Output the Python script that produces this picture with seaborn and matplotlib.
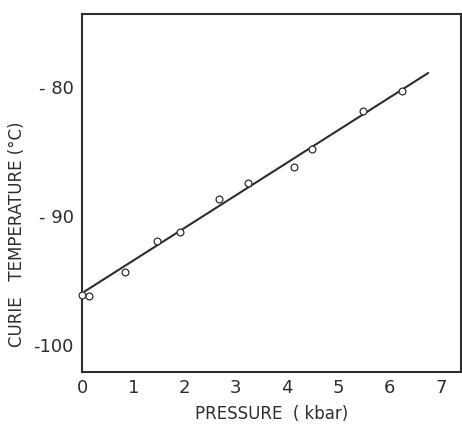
import matplotlib
matplotlib.use("Agg")
import matplotlib.pyplot as plt
import seaborn as sns
import pandas as pd

# Data
pressure_kbar = [0.0, 0.14, 0.83, 1.46, 1.92, 2.67, 3.23, 4.13, 4.48, 5.48, 6.24]
curie_temp_c = [-96.1, -96.2, -94.3, -91.9, -91.2, -88.65, -87.45, -86.15, -84.75, -81.85, -80.3]
fit_x = [0.05, 6.75]
fit_y = [-95.85, -78.88]
x_ticks = [0, 1, 2, 3, 4, 5, 6, 7]
x_tick_labels = ["0", "1", "2", "3", "4", "5", "6", "7"]
y_ticks = [-100, -90, -80]
y_tick_labels = ["-100", "- 90", "- 80"]

sns.set_style("white")
plt.rcParams['font.family'] = ['DejaVu Sans']

ink = "#2e2e2e"
fig = plt.figure(figsize=(4.62, 4.25), dpi=100)
ax = fig.add_axes([82/462, 1-372/425, (461-82)/462, (372-14)/425])

pts = pd.DataFrame({"p": pressure_kbar, "t": curie_temp_c})
fit = pd.DataFrame({"p": fit_x, "t": fit_y})

sns.lineplot(data=fit, x="p", y="t", ax=ax, color=ink, linewidth=1.5)
sns.scatterplot(data=pts, x="p", y="t", ax=ax, marker="o", s=24,
                facecolor="white", edgecolor=ink, linewidth=0.9, zorder=3,
                clip_on=False)

ax.set_xlim(0, 7.39)
ax.set_ylim(-102.1, -74.3)
ax.set_xticks(x_ticks)
ax.set_xticklabels(x_tick_labels)
ax.set_yticks(y_ticks)
ax.set_yticklabels(y_tick_labels)

for s in ax.spines.values():
    s.set_visible(True)
    s.set_color(ink)
    s.set_linewidth(1.5)

ax.tick_params(axis="x", direction="in", length=11, width=1.5, color=ink,
               labelsize=13, labelcolor=ink, pad=5, top=False)
ax.tick_params(axis="y", direction="in", length=8, width=1.5, color=ink,
               labelsize=13, labelcolor=ink, pad=6, right=False)

ax.set_xlabel("PRESSURE  ( kbar)", fontsize=12, color=ink)
ax.set_ylabel("CURIE   TEMPERATURE (°C)", fontsize=12, color=ink)
ax.xaxis.set_label_coords(0.5, -0.093)
ax.yaxis.set_label_coords(-0.148, 0.385)

fig.savefig("out.png", dpi=100)
